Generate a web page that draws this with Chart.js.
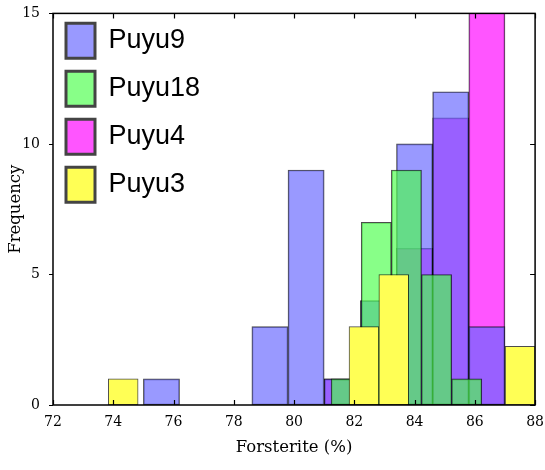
<!DOCTYPE html>
<html>
<head>
<meta charset="utf-8">
<script src="https://cdn.jsdelivr.net/npm/chart.js@4.4.1/dist/chart.umd.min.js"></script>
<style>
  html, body { margin: 0; padding: 0; background: #fff; }
</style>
</head>
<body>
<canvas id="foHist" width="545" height="470"></canvas>
<script>
// bin centres (Fo %) and counts per sample
const puyu9Bins = [75.6, 79.2, 80.4, 81.6, 82.8, 84.0, 85.2, 86.4];
const puyu9Counts = [1, 3, 9, 1, 4, 10, 12, 3];

const puyu18Bins = [81.73, 82.73, 83.73, 84.73, 85.73];
const puyu18Counts = [1, 7, 9, 5, 1];

const puyu4Bins = [81.6, 84.0, 85.2, 86.4];
const puyu4Counts = [1, 6, 11, 17];

const puyu3Bins = [74.33, 82.32, 83.31, 87.5];
const puyu3Counts = [1, 3, 5, 2.25];

const sampleNames = ["Puyu9", "Puyu18", "Puyu4", "Puyu3"];

const xMin = 72, xMax = 88, xStep = 2;
const yMin = 0, yMax = 15, yStep = 5;

const serif = "'DejaVu Serif', serif";

function toPoints(bins, counts) {
  return bins.map((b, i) => ({ x: b, y: counts[i] }));
}

// every sample gets its own x scale so bar width follows its own bin width
function hiddenX() {
  return {
    type: "linear", axis: "x", position: "bottom", display: false,
    min: xMin, max: xMax, offset: false,
    grid: { offset: false },
    ticks: { stepSize: xStep }
  };
}

// frame + tick marks (in on top/bottom/right, out on the left)
const boxFrame = {
  id: "boxFrame",
  afterDraw(chart) {
    const { ctx, chartArea: a, scales } = chart;
    const sx = scales.x, sy = scales.y;
    ctx.save();
    ctx.strokeStyle = "#000";
    ctx.lineWidth = 1.5;
    ctx.strokeRect(a.left, a.top, a.right - a.left, a.bottom - a.top);
    ctx.lineWidth = 1.2;
    ctx.beginPath();
    sx.ticks.forEach(t => {
      const px = Math.round(sx.getPixelForValue(t.value)) + 0.5;
      ctx.moveTo(px, a.bottom); ctx.lineTo(px, a.bottom - 5);
      ctx.moveTo(px, a.top); ctx.lineTo(px, a.top + 5);
    });
    sy.ticks.forEach(t => {
      const py = Math.round(sy.getPixelForValue(t.value)) + 0.5;
      ctx.moveTo(a.left, py); ctx.lineTo(a.left - 4, py);
      ctx.moveTo(a.right, py); ctx.lineTo(a.right - 5, py);
    });
    ctx.stroke();
    ctx.restore();
  }
};

// overlapping (not side by side) histogram bars
const barStyle = {
  grouped: false,
  borderWidth: 1,
  borderColor: "rgba(0,0,0,0.7)",
  borderSkipped: false,
  barPercentage: 1,
  categoryPercentage: 1
};

new Chart(document.getElementById("foHist"), {
  type: "bar",
  data: {
    datasets: [
      { label: sampleNames[0], data: toPoints(puyu9Bins, puyu9Counts), xAxisID: "x",
        backgroundColor: "rgba(102,102,255,0.667)", order: 2, ...barStyle },
      { label: sampleNames[1], data: toPoints(puyu18Bins, puyu18Counts), xAxisID: "x2",
        backgroundColor: "rgba(76,255,76,0.667)", order: 1, ...barStyle },
      { label: sampleNames[2], data: toPoints(puyu4Bins, puyu4Counts), xAxisID: "x3",
        backgroundColor: "rgba(255,0,255,0.667)", order: 3, ...barStyle },
      { label: sampleNames[3], data: toPoints(puyu3Bins, puyu3Counts), xAxisID: "x4",
        backgroundColor: "#ffff55", order: 0, ...barStyle }
    ]
  },
  options: {
    responsive: false,
    animation: false,
    layout: { padding: { top: 12, right: 7, left: 0, bottom: 0 } },
    plugins: {
      tooltip: { enabled: false },
      legend: {
        position: "chartArea",
        align: "start",
        title: { display: true, text: "", font: { size: 1 }, padding: { top: 0, bottom: 9 } },
        labels: {
          boxWidth: 29,
          boxHeight: 35,
          padding: 13,
          color: "#000",
          font: { family: "'Liberation Sans', Arial, sans-serif", size: 27 },
          sort: (a, b) => a.datasetIndex - b.datasetIndex,
          generateLabels(chart) {
            const items = Chart.defaults.plugins.legend.labels.generateLabels(chart);
            return items.map(it => Object.assign(it, { strokeStyle: "#444", lineWidth: 3 }));
          }
        }
      }
    },
    scales: {
      x: {
        type: "linear", position: "bottom",
        min: xMin, max: xMax, offset: false,
        grid: { display: false, offset: false },
        border: { display: false },
        ticks: {
          stepSize: xStep, padding: 1, color: "#000",
          maxRotation: 0, autoSkip: false,
          font: { family: serif, size: 14 }
        },
        title: {
          display: true, text: "Forsterite (%)", color: "#000",
          font: { family: serif, size: 16.5 },
          padding: { top: 0, bottom: 12 }
        },
        afterFit(s) { s.height = 65; }
      },
      x2: hiddenX(),
      x3: hiddenX(),
      x4: hiddenX(),
      y: {
        min: yMin, max: yMax,
        grid: { display: false },
        border: { display: false },
        ticks: {
          stepSize: yStep, padding: 5, color: "#000",
          font: { family: serif, size: 14 }
        },
        title: {
          display: true, text: "Frequency", color: "#000",
          font: { family: serif, size: 16.5 },
          padding: { top: 6, bottom: 0 }
        },
        afterFit(s) { s.width = 53; }
      }
    }
  },
  plugins: [boxFrame]
});
</script>
</body>
</html>
